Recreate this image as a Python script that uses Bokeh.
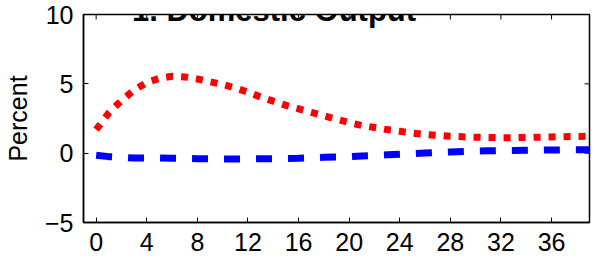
from bokeh.plotting import figure
from bokeh.models import Range1d, FixedTicker, Label
from bokeh.embed import file_html
from bokeh.resources import INLINE

quarters = list(range(40))
red_series = [1.7, 2.9, 3.8, 4.55, 5.1, 5.4, 5.55, 5.5, 5.35, 5.15,
              4.95, 4.7, 4.4, 4.05, 3.75, 3.45, 3.2, 2.95, 2.7, 2.45,
              2.2, 2.0, 1.85, 1.7, 1.58, 1.45, 1.35, 1.28, 1.22, 1.18,
              1.15, 1.13, 1.12, 1.12, 1.13, 1.15, 1.17, 1.19, 1.2, 1.22]
blue_series = [-0.15, -0.25, -0.3, -0.35, -0.35, -0.35, -0.37, -0.38, -0.4, -0.4,
               -0.42, -0.42, -0.42, -0.4, -0.4, -0.38, -0.36, -0.33, -0.3, -0.28,
               -0.25, -0.2, -0.16, -0.12, -0.08, -0.04, 0.01, 0.05, 0.09, 0.12,
               0.15, 0.17, 0.19, 0.2, 0.21, 0.22, 0.23, 0.24, 0.24, 0.25]
x_ticks = [0, 4, 8, 12, 16, 20, 24, 28, 32, 36]
y_ticks = [-5, 0, 5, 10]
x_lo, x_hi = -1, 39
y_lo, y_hi = -5, 10
title_text = "1. Domestic Output"
y_label = "Percent"

FONT = "Liberation Sans"

p = figure(width=591, height=258, output_backend="svg", toolbar_location=None,
           x_range=Range1d(x_lo, x_hi), y_range=Range1d(y_lo, y_hi),
           min_border_left=75, min_border_right=2, min_border_top=14,
           min_border_bottom=36)
p.grid.visible = False
p.outline_line_color = "black"
p.outline_line_width = 1.5
p.background_fill_color = "white"
p.border_fill_color = "white"

p.xaxis.ticker = FixedTicker(ticks=x_ticks)
p.yaxis.ticker = FixedTicker(ticks=y_ticks)
p.yaxis.major_label_overrides = {-5: "\u22125"}
for ax in (p.xaxis[0], p.yaxis[0]):
    ax.major_tick_in = 5
    ax.major_tick_out = 0
    ax.minor_tick_in = 0
    ax.minor_tick_out = 0
    ax.axis_line_color = "black"
    ax.axis_line_width = 1.5
    ax.major_tick_line_color = "black"
    ax.major_tick_line_width = 1
    ax.major_label_text_font = FONT
    ax.major_label_text_font_size = "25px"
    ax.major_label_text_color = "black"
    ax.major_label_standoff = 10

p.yaxis.axis_label = y_label
p.yaxis.axis_label_text_font = FONT
p.yaxis.axis_label_text_font_size = "25px"
p.yaxis.axis_label_text_font_style = "normal"
p.yaxis.axis_label_text_color = "black"
p.yaxis.axis_label_standoff = 10

# mirrored inward ticks on the top and right edges (MATLAB box style)
tick_dx = 5 / 514 * (x_hi - x_lo)
tick_dy = 5 / 208 * (y_hi - y_lo)
p.segment(x0=x_ticks, y0=[y_hi] * len(x_ticks), x1=x_ticks, y1=[y_hi - tick_dy] * len(x_ticks),
          line_color="black", line_width=1)
p.segment(x0=[x_hi] * len(y_ticks), y0=y_ticks, x1=[x_hi - tick_dx] * len(y_ticks), y1=y_ticks,
          line_color="black", line_width=1)

p.line(quarters, red_series, line_color="#ff0000", line_width=7, line_dash="7 8")
p.line(quarters, blue_series, line_color="#0000ff", line_width=7, line_dash="16 16")

p.add_layout(Label(x=14.06, y=10.29, text=title_text, text_align="center",
                   text_baseline="alphabetic", text_font=FONT, text_font_size="31px",
                   text_font_style="bold", text_color="black"))

open("out.html", "w").write(file_html(p, INLINE))
